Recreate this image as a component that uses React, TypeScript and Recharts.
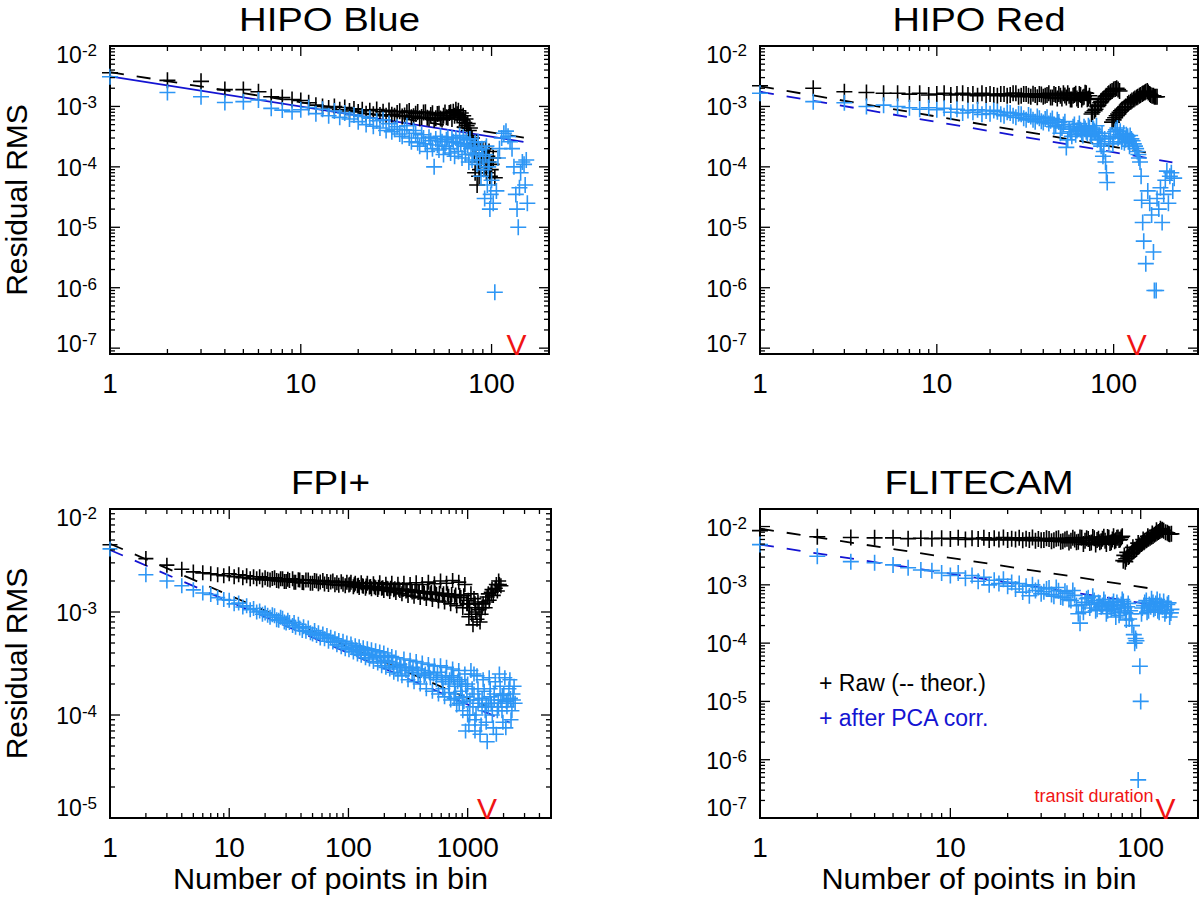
import React from "react";
import {
  ScatterChart,
  Scatter,
  XAxis,
  YAxis,
  ReferenceLine,
  ReferenceArea,
  ReferenceDot,
} from "recharts";

// Residual RMS vs. bin size for four instruments (log-log), raw vs. PCA-corrected.

const FONT = "'Liberation Sans', Arial, Helvetica, sans-serif";
const BLACK = "#000000";
const LIGHT_BLUE = "#2d96f5";
const DARK_BLUE = "#1414d2";
const RED = "#f01414";

// ---------- HIPO Blue ----------
const hbRawN = [
  1, 2, 3, 4, 5, 6, 7, 8, 9, 10, 11, 12, 13, 14, 15, 16, 17, 18, 19, 20, 21, 22, 23, 24, 25, 26, 27, 28, 29, 30,
  32, 34, 36, 38, 40, 42, 44, 46, 48, 50, 52, 54, 56, 58, 60, 62,
  63, 64, 65, 66, 67, 68, 69, 70, 71, 72, 73, 74, 75, 76, 77, 78, 79, 80,
  82, 84, 85, 86, 88, 90, 92, 95, 98, 100, 104,
  31, 33, 35, 37, 39, 41, 43, 45, 47, 49,
  51, 53, 55, 57, 59, 61, 81, 83, 87, 89,
  91, 93, 94, 96, 97, 99, 102,
];
const hbRawRms = [
  3.6e-3, 2.7e-3, 2.6e-3, 1.9e-3, 1.9e-3, 1.75e-3, 1.45e-3, 1.4e-3, 1.3e-3, 1.25e-3,
  1.15e-3, 1.05e-3, 1.0e-3, 9.4e-4, 1.0e-3, 8.8e-4, 9.6e-4, 8.4e-4, 9.1e-4, 8.1e-4,
  8.8e-4, 7.6e-4, 8.5e-4, 7.4e-4, 8.9e-4, 7.2e-4, 8.2e-4, 7.0e-4, 8.6e-4, 7.3e-4,
  7.8e-4, 6.8e-4, 8.0e-4, 6.6e-4, 7.6e-4, 6.4e-4, 7.9e-4, 6.5e-4, 7.2e-4, 6.0e-4, 7.5e-4, 6.3e-4, 7.0e-4, 6.6e-4, 7.8e-4, 6.2e-4,
  8.2e-4, 7.0e-4, 8.8e-4, 7.4e-4, 8.5e-4, 6.6e-4, 7.8e-4, 6.0e-4, 7.0e-4, 5.4e-4, 6.2e-4, 4.8e-4, 5.2e-4, 4.0e-4, 4.4e-4, 3.3e-4, 3.0e-4, 2.4e-4,
  8.0e-5, 5.0e-5, 1.2e-4, 7.0e-5, 1.3e-4, 1.9e-4, 1.0e-4, 1.5e-4, 7.0e-5, 1.1e-4, 6.6e-5,
  7.0e-4, 8.3e-4, 7.1e-4, 8.4e-4, 6.9e-4, 8.1e-4, 6.7e-4, 8.0e-4, 6.3e-4, 7.7e-4,
  6.4e-4, 7.6e-4, 6.1e-4, 7.9e-4, 6.5e-4, 8.0e-4, 1.6e-4, 2.2e-4, 9.0e-5, 1.7e-4,
  1.3e-4, 2.0e-4, 8.0e-5, 1.2e-4, 1.8e-4, 9.0e-5, 1.4e-4,
];
const hbPcaN = [
  1, 2, 3, 4, 5, 6, 7, 8, 9, 10, 11, 12, 13, 14, 15, 16, 17, 18, 19, 20, 21, 22, 23, 24, 25, 26, 27, 28, 29, 30,
  32, 34, 36, 38, 40, 42, 44, 46, 48, 50, 52, 54, 56, 58, 60, 62, 64, 66, 68, 70, 72, 74, 76, 78, 80, 82, 84, 86, 88, 90,
  92, 94, 96, 98, 100, 102, 104, 106, 108, 110, 113, 116, 119, 122, 125, 128, 131, 134,
  136, 138, 140, 142, 145, 148, 150, 152, 154,
  31, 33, 35, 37, 39, 41, 43, 45, 47, 49,
  51, 53, 55, 57, 59, 61, 63, 65, 67, 69,
  71, 73, 75, 77, 79, 81, 83, 85, 87, 89,
  91, 93, 95, 97, 99,
];
const hbPcaRms = [
  3.1e-3, 1.7e-3, 1.45e-3, 1.16e-3, 1.2e-3, 1.28e-3, 9.3e-4, 8.7e-4, 8.2e-4, 8.8e-4,
  9.6e-4, 7.6e-4, 9.0e-4, 7.0e-4, 8.4e-4, 6.6e-4, 7.8e-4, 6.2e-4, 7.2e-4, 5.6e-4,
  6.8e-4, 5.0e-4, 6.4e-4, 4.7e-4, 5.8e-4, 4.4e-4, 6.0e-4, 4.0e-4, 5.2e-4, 3.8e-4,
  4.6e-4, 3.2e-4, 4.8e-4, 2.6e-4, 3.6e-4, 2.2e-4, 3.0e-4, 1.8e-4, 2.7e-4, 1.0e-4,
  2.3e-4, 3.2e-4, 1.6e-4, 2.8e-4, 2.0e-4, 3.0e-4, 1.5e-4, 2.5e-4, 3.3e-4, 1.4e-4,
  2.2e-4, 2.8e-4, 1.2e-4, 2.0e-4, 1.6e-4, 2.5e-4, 1.1e-4, 1.9e-4, 7.0e-5, 1.5e-4,
  3.0e-5, 2.2e-4, 1.0e-4, 2.0e-5, 6.0e-5, 2.5e-5, 8.4e-7, 4.0e-5, 1.4e-4, 2.0e-4,
  3.0e-4, 3.6e-4, 3.9e-4, 3.2e-4, 2.6e-4, 2.0e-4, 1.0e-4, 3.5e-5,
  2.0e-5, 1.0e-5, 4.5e-5, 8.0e-5, 1.2e-4, 1.1e-4, 5.0e-5, 1.3e-4, 2.5e-5,
  4.2e-4, 3.5e-4, 4.1e-4, 3.0e-4, 4.0e-4, 2.5e-4, 3.4e-4, 2.4e-4, 3.1e-4, 2.0e-4,
  2.9e-4, 1.9e-4, 2.6e-4, 2.2e-4, 3.1e-4, 1.7e-4, 2.6e-4, 3.0e-4, 1.8e-4, 2.4e-4,
  3.1e-4, 1.6e-4, 2.3e-4, 2.9e-4, 1.3e-4, 2.1e-4, 1.7e-4, 2.6e-4, 1.3e-4, 2.0e-4,
  9.0e-5, 1.6e-4, 5.0e-5, 1.2e-4, 3.5e-5,
];
const hbTheorRaw = [[1, 3.7e-3], [148, 3.04e-4]];
const hbTheorPca = [[1, 3.15e-3], [147, 2.6e-4]];

// ---------- HIPO Red ----------
const hrRawN = [
  1, 2, 3, 4, 5, 6, 7, 8, 9, 10, 11, 12, 13, 14, 15, 16, 17, 18, 19, 20,
  22, 24, 26, 28, 30, 32, 34, 36, 38, 40, 42, 44, 46, 48, 50, 52, 54, 56, 58, 60, 62, 64, 66, 68, 70, 72,
  75, 78, 81, 84, 87, 90, 93, 96, 100, 104, 108,
  98, 102, 106, 110, 115, 120, 125, 130, 135, 140, 145, 150, 155, 160, 165, 170, 176,
  21, 23, 25, 27, 29, 31, 33, 35, 37, 39,
  41, 43, 45, 47, 49, 51, 53, 55, 57, 59,
  61, 63, 65, 67, 69, 71, 73, 74, 76, 79,
  82, 85, 88, 91, 94, 98, 102, 106, 100, 104,
  108, 112, 117, 122, 127, 132, 137, 142, 147, 152,
  157, 162, 168, 173,
];
const hrRawRms = [
  2.2e-3, 2.0e-3, 1.75e-3, 1.7e-3, 1.65e-3, 1.65e-3, 1.6e-3, 1.65e-3, 1.55e-3, 1.6e-3,
  1.65e-3, 1.55e-3, 1.6e-3, 1.65e-3, 1.55e-3, 1.6e-3, 1.5e-3, 1.65e-3, 1.55e-3, 1.6e-3,
  1.5e-3, 1.6e-3, 1.55e-3, 1.65e-3, 1.5e-3, 1.6e-3, 1.45e-3, 1.55e-3, 1.6e-3, 1.45e-3,
  1.55e-3, 1.4e-3, 1.6e-3, 1.35e-3, 1.5e-3, 1.65e-3, 1.4e-3, 1.5e-3, 1.3e-3, 1.55e-3,
  1.35e-3, 1.6e-3, 1.3e-3, 1.45e-3, 1.65e-3, 1.35e-3,
  7.5e-4, 8.5e-4, 1.0e-3, 1.15e-3, 1.3e-3, 1.45e-3, 1.6e-3, 1.75e-3, 1.9e-3, 2.0e-3, 1.8e-3,
  5.5e-4, 6.5e-4, 7.5e-4, 8.5e-4, 9.5e-4, 1.1e-3, 1.2e-3, 1.3e-3, 1.4e-3, 1.5e-3, 1.6e-3, 1.7e-3, 1.8e-3, 1.6e-3, 1.5e-3, 1.45e-3, 1.45e-3,
  1.55e-3, 1.6e-3, 1.5e-3, 1.65e-3, 1.45e-3, 1.6e-3, 1.5e-3, 1.62e-3, 1.42e-3, 1.58e-3,
  1.5e-3, 1.65e-3, 1.4e-3, 1.55e-3, 1.6e-3, 1.35e-3, 1.52e-3, 1.66e-3, 1.3e-3, 1.5e-3,
  1.62e-3, 1.28e-3, 1.55e-3, 1.4e-3, 1.68e-3, 1.32e-3, 1.5e-3, 1.3e-3, 8.0e-4, 9.0e-4,
  1.05e-3, 1.2e-3, 1.35e-3, 1.5e-3, 1.65e-3, 1.8e-3, 1.95e-3, 1.9e-3, 6.0e-4, 7.0e-4,
  8.0e-4, 9.0e-4, 1.0e-3, 1.15e-3, 1.25e-3, 1.35e-3, 1.45e-3, 1.55e-3, 1.65e-3, 1.75e-3,
  1.7e-3, 1.55e-3, 1.5e-3, 1.45e-3,
];
const hrPcaN = [
  1, 2, 3, 4, 5, 6, 7, 8, 9, 10, 11, 12, 13, 14, 15, 16, 17, 18, 19, 20,
  22, 24, 26, 28, 30, 32, 34, 36, 38, 40, 42, 44, 46, 48, 50, 52, 54, 55,
  56, 58, 60, 62, 64, 66, 68, 70, 72, 74, 76, 78, 80, 82, 84, 86, 88, 90, 91, 92, 94, 96,
  99, 102, 105, 108, 111, 114, 117, 120, 123, 126, 130, 134, 138,
  141, 143, 144, 146, 148, 152, 156, 160, 164, 168, 170, 174, 176,
  180, 184, 188, 192, 196, 200, 204, 208, 212, 216, 220,
  21, 23, 25, 27, 29, 31, 33, 35, 37, 39,
  41, 43, 45, 47, 49, 51, 53, 57, 59, 61,
  63, 65, 67, 69, 71, 73, 75, 77, 79, 81,
  83, 85, 87, 89, 100, 103, 106, 109, 112, 115,
  118, 121, 124, 128, 132, 136, 139,
];
const hrPcaRms = [
  1.65e-3, 1.2e-3, 1.15e-3, 1.0e-3, 1.05e-3, 1.0e-3, 9.5e-4, 9.0e-4, 9.5e-4, 8.8e-4,
  9.3e-4, 8.0e-4, 9.0e-4, 7.8e-4, 8.6e-4, 8.0e-4, 8.8e-4, 7.4e-4, 8.4e-4, 7.6e-4,
  8.2e-4, 7.0e-4, 7.8e-4, 6.6e-4, 7.4e-4, 6.0e-4, 6.8e-4, 5.6e-4, 6.4e-4, 5.4e-4, 6.6e-4, 5.8e-4, 4.6e-4, 6.0e-4, 3.6e-4, 5.0e-4, 2.1e-4, 2.8e-4,
  4.2e-4, 3.2e-4, 5.0e-4, 4.0e-4, 5.2e-4, 3.6e-4, 4.6e-4, 3.8e-4, 4.8e-4, 3.4e-4, 4.4e-4, 3.9e-4, 4.8e-4, 3.0e-4, 2.4e-4, 3.6e-4, 1.8e-4, 1.2e-4, 8.0e-5, 5.5e-5, 2.6e-4, 3.2e-4,
  2.4e-4, 3.8e-4, 4.4e-4, 3.4e-4, 2.6e-4, 3.6e-4, 2.8e-4, 3.2e-4, 2.2e-4, 2.9e-4, 2.4e-4, 2.0e-4, 1.6e-4,
  1.2e-4, 7.0e-5, 2.8e-5, 1.2e-5, 5.9e-6, 2.5e-6, 4.0e-5, 2.5e-5, 1.6e-5, 3.9e-6, 9.0e-7, 9.0e-7, 3.0e-5,
  2.0e-5, 4.5e-5, 1.2e-5, 3.5e-5, 6.0e-5, 8.5e-5, 2.5e-5, 7.0e-5, 8.0e-5, 4.0e-5, 6.5e-5,
  8.6e-4, 7.4e-4, 8.0e-4, 7.0e-4, 7.6e-4, 6.4e-4, 7.2e-4, 6.0e-4, 6.8e-4, 5.7e-4,
  6.2e-4, 5.2e-4, 6.3e-4, 4.8e-4, 5.5e-4, 4.4e-4, 5.6e-4, 3.8e-4, 4.6e-4, 3.4e-4,
  4.4e-4, 4.1e-4, 3.3e-4, 4.3e-4, 3.6e-4, 4.5e-4, 3.2e-4, 4.2e-4, 3.7e-4, 2.8e-4,
  3.3e-4, 2.2e-4, 1.5e-4, 2.9e-4, 3.0e-4, 4.1e-4, 3.0e-4, 3.9e-4, 3.1e-4, 2.5e-4,
  3.4e-4, 2.6e-4, 3.3e-4, 2.7e-4, 2.2e-4, 1.8e-4, 1.4e-4,
];
const hrTheorRaw = [[1, 2.15e-3], [152, 1.74e-4]];
const hrTheorPca = [[1, 1.75e-3], [215, 1.19e-4]];

// ---------- FPI+ ----------
const fpRawN = [
  1, 2, 3, 4, 5, 6, 7, 8, 9, 10,
  11, 12, 13, 14, 15, 16, 17, 18, 19, 20,
  21, 22, 23, 24, 25, 26, 27, 28, 29, 30,
  31, 32, 34, 35, 36, 38, 39, 41, 42, 44,
  46, 48, 50, 52, 54, 56, 58, 61, 63, 66,
  68, 71, 74, 77, 80, 83, 87, 90, 94, 97,
  101, 105, 110, 114, 119, 123, 128, 133, 139, 144,
  150, 156, 162, 169, 176, 183, 190, 198, 206, 214,
  222, 231, 240, 250, 260, 270, 281, 292, 304, 316,
  329, 342, 355, 370, 384, 400, 416, 432, 450, 468,
  486, 506, 526, 547, 569, 592, 615, 640, 665, 692,
  720, 748, 778, 809, 842, 875, 910, 947, 985, 1024,
  1065, 1108, 1152, 1198, 1246, 1296, 1348, 1402, 1458, 1516,
  1577, 1640, 1705, 1774, 1845, 1900, 1010, 1040, 1080, 1130,
  1170, 1220, 1270, 1320, 1420, 1490, 1600, 1740, 1820,
  103, 112, 121, 131, 141, 153, 165, 179, 194, 210,
  226, 245, 265, 286, 310, 335, 362, 392, 424, 459,
  496, 536, 580, 627, 678, 734, 793, 858, 928, 1000,
];
const fpRawRms = [
  4.5e-3, 3.3e-3, 2.85e-3, 2.6e-3, 2.45e-3, 2.4e-3, 2.35e-3, 2.3e-3, 2.25e-3, 2.35e-3,
  2.2e-3, 2.3e-3, 2.15e-3, 2.25e-3, 2.1e-3, 2.2e-3, 2.1e-3, 2.2e-3, 2.05e-3, 2.15e-3,
  2.08e-3, 2.05e-3, 2.12e-3, 2.15e-3, 2.02e-3, 2.0e-3, 2.1e-3, 2.1e-3, 1.98e-3, 1.98e-3,
  2.08e-3, 2.02e-3, 2.1e-3, 1.95e-3, 1.95e-3, 2.06e-3, 2.05e-3, 1.93e-3, 1.92e-3, 2.04e-3,
  2.05e-3, 1.9e-3, 1.9e-3, 2.02e-3, 2.0e-3, 1.88e-3, 1.96e-3, 2.02e-3, 1.87e-3, 1.98e-3,
  1.85e-3, 1.96e-3, 2.0e-3, 1.84e-3, 1.92e-3, 1.82e-3, 1.97e-3, 1.86e-3, 1.8e-3, 1.95e-3,
  1.83e-3, 1.94e-3, 1.76e-3, 1.9e-3, 1.8e-3, 1.73e-3, 1.92e-3, 1.78e-3, 1.7e-3, 1.9e-3,
  1.75e-3, 1.68e-3, 1.88e-3, 1.72e-3, 1.65e-3, 1.92e-3, 1.7e-3, 1.62e-3, 1.86e-3, 1.68e-3,
  1.58e-3, 1.9e-3, 1.64e-3, 1.55e-3, 1.86e-3, 1.62e-3, 1.5e-3, 1.9e-3, 1.6e-3, 1.45e-3,
  1.85e-3, 1.56e-3, 1.42e-3, 1.92e-3, 1.55e-3, 1.38e-3, 1.85e-3, 1.52e-3, 1.35e-3, 1.95e-3,
  1.5e-3, 1.32e-3, 1.88e-3, 1.48e-3, 1.28e-3, 2.0e-3, 1.45e-3, 1.25e-3, 1.9e-3, 1.42e-3,
  1.2e-3, 2.02e-3, 1.4e-3, 1.15e-3, 1.95e-3, 1.38e-3, 1.1e-3, 1.85e-3, 1.2e-3, 9.0e-4,
  1.5e-3, 7.5e-4, 1.2e-3, 8.5e-4, 1.05e-3, 9.5e-4, 1.2e-3, 1.1e-3, 1.4e-3, 1.3e-3,
  1.55e-3, 1.45e-3, 1.7e-3, 1.6e-3, 1.85e-3, 1.8e-3, 1.3e-3, 1.1e-3, 9.5e-4, 1.35e-3,
  1.0e-3, 1.25e-3, 8.0e-4, 1.1e-3, 1.25e-3, 1.5e-3, 1.65e-3, 1.85e-3, 2.0e-3,
  1.86e-3, 1.84e-3, 1.82e-3, 1.8e-3, 1.79e-3, 1.77e-3, 1.76e-3, 1.74e-3, 1.72e-3, 1.7e-3,
  1.7e-3, 1.68e-3, 1.66e-3, 1.65e-3, 1.63e-3, 1.62e-3, 1.6e-3, 1.58e-3, 1.58e-3, 1.56e-3,
  1.55e-3, 1.53e-3, 1.52e-3, 1.5e-3, 1.5e-3, 1.48e-3, 1.46e-3, 1.45e-3, 1.44e-3, 1.2e-3,
];
const fpPcaN = [
  1, 2, 3, 4, 5, 6, 7, 8, 9, 10,
  11, 12, 13, 14, 15, 16, 17, 18, 19, 20,
  21, 22, 23, 24, 25, 26, 27, 28, 29, 30,
  31, 32, 34, 35, 36, 38, 39, 41, 42, 44,
  46, 48, 50, 52, 54, 56, 58, 61, 63, 66,
  68, 71, 74, 77, 80, 83, 87, 90, 94, 97,
  101, 105, 110, 114, 119, 123, 128, 133, 139, 144,
  150, 156, 162, 169, 176, 183, 190, 198, 206, 214,
  222, 231, 240, 250, 260, 270, 281, 292, 304, 316,
  329, 342, 355, 370, 384, 400, 416, 432, 450, 468,
  486, 506, 526, 547, 569, 592, 615, 640, 665, 692,
  720, 748, 778, 809, 842, 875, 910, 947, 985, 1024,
  1065, 1108, 1152, 1198, 1246, 1296, 1348, 1402, 1458, 1516,
  1577, 1640, 1705, 1774, 1845, 1900, 1975, 2050, 2135, 2220,
  2310, 2400, 2500, 730, 790, 860, 930, 960, 1000, 1040,
  1090, 1130, 1175, 1220, 1270, 1320, 1375, 1430, 1490, 1545,
  1610, 1670, 1740, 1810, 1870, 1940, 2010, 2090, 2180, 2260,
  2350, 2450,
  202, 218, 235, 255, 275, 298, 322, 348, 377, 408,
  441, 477, 516, 558, 603, 652, 706, 763, 825, 893,
  965, 1045, 1130, 1222, 1322, 1430, 1546, 1672, 1808, 1955,
  2114, 2286, 2420, 620, 700, 770, 850, 900, 1000, 1150,
  107, 117, 126, 136, 147, 159, 172, 186,
];
const fpPcaRms = [
  4.1e-3, 2.3e-3, 2.0e-3, 1.8e-3, 1.64e-3, 1.53e-3, 1.48e-3, 1.38e-3, 1.32e-3, 1.3e-3,
  1.2e-3, 1.22e-3, 1.12e-3, 1.15e-3, 1.05e-3, 1.08e-3, 1.0e-3, 1.02e-3, 9.5e-4, 9.8e-4,
  9.3e-4, 8.9e-4, 9.4e-4, 9.2e-4, 8.4e-4, 8.3e-4, 8.9e-4, 8.7e-4, 8.0e-4, 7.8e-4,
  8.3e-4, 7.9e-4, 7.4e-4, 7.9e-4, 7.1e-4, 7.6e-4, 7.0e-4, 6.6e-4, 7.2e-4, 6.5e-4,
  7.0e-4, 6.3e-4, 6.1e-4, 6.6e-4, 5.9e-4, 6.3e-4, 5.6e-4, 6.1e-4, 5.5e-4, 5.9e-4,
  5.2e-4, 5.7e-4, 5.1e-4, 5.5e-4, 4.8e-4, 5.3e-4, 4.6e-4, 5.2e-4, 4.4e-4, 5.0e-4,
  4.3e-4, 4.9e-4, 4.1e-4, 4.7e-4, 3.9e-4, 4.6e-4, 3.8e-4, 4.5e-4, 3.6e-4, 4.4e-4,
  3.5e-4, 4.3e-4, 3.3e-4, 4.2e-4, 3.2e-4, 4.1e-4, 3.0e-4, 4.0e-4, 2.9e-4, 3.8e-4,
  2.8e-4, 3.7e-4, 2.6e-4, 3.6e-4, 2.5e-4, 3.1e-4, 2.4e-4, 3.5e-4, 2.7e-4, 2.2e-4,
  3.4e-4, 2.6e-4, 2.1e-4, 3.3e-4, 2.5e-4, 2.0e-4, 3.2e-4, 2.4e-4, 1.8e-4, 3.1e-4,
  2.3e-4, 1.7e-4, 3.0e-4, 2.2e-4, 1.6e-4, 3.0e-4, 2.1e-4, 1.5e-4, 2.9e-4, 2.0e-4,
  1.4e-4, 2.8e-4, 1.9e-4, 1.25e-4, 2.7e-4, 1.7e-4, 1.1e-4, 2.5e-4, 1.5e-4, 8.0e-5,
  2.7e-4, 1.2e-4, 7.0e-5, 2.4e-4, 1.4e-4, 8.0e-5, 2.2e-4, 1.1e-4, 5.5e-5, 2.3e-4,
  1.3e-4, 7.5e-5, 2.1e-4, 1.1e-4, 2.5e-4, 1.4e-4, 8.5e-5, 2.3e-4, 1.2e-4, 1.8e-4,
  9.0e-5, 1.6e-4, 1.3e-4, 2.4e-4, 1.6e-4, 2.2e-4, 1.35e-4, 7.0e-5, 2.0e-4, 1.0e-4,
  1.8e-4, 2.5e-4, 1.0e-4, 1.8e-4, 6.5e-5, 1.2e-4, 1.7e-4, 8.5e-5, 1.2e-4, 1.8e-4,
  1.0e-4, 1.6e-4, 6.5e-5, 1.2e-4, 1.9e-4, 1.1e-4, 1.6e-4, 7.5e-5, 1.4e-4, 2.2e-4,
  1.1e-4, 1.9e-4,
  3.4e-4, 3.3e-4, 3.2e-4, 3.0e-4, 2.9e-4, 2.9e-4, 2.8e-4, 2.9e-4, 2.8e-4, 2.7e-4,
  2.5e-4, 2.6e-4, 2.5e-4, 2.6e-4, 2.4e-4, 2.3e-4, 2.2e-4, 2.3e-4, 2.1e-4, 2.0e-4,
  1.9e-4, 1.4e-4, 1.6e-4, 1.3e-4, 1.45e-4, 1.25e-4, 1.5e-4, 1.4e-4, 1.3e-4, 1.55e-4,
  1.35e-4, 1.45e-4, 1.4e-4, 1.8e-4, 1.65e-4, 1.45e-4, 1.3e-4, 1.5e-4, 1.0e-4, 9.0e-5,
  4.5e-4, 4.3e-4, 4.2e-4, 4.0e-4, 3.9e-4, 3.8e-4, 3.7e-4, 3.6e-4,
];
const fpTheorRaw = [[1, 4.6e-3], [1500, 1.19e-4]];
const fpTheorPca = [[1, 4.0e-3], [2250, 8.43e-5]];

// ---------- FLITECAM ----------
const flRawN = [
  1, 2, 3, 4, 5, 6, 7, 8, 9, 10, 11, 12, 13, 14, 15, 16, 17, 18, 19, 20, 21, 22, 23, 24, 25, 26, 27, 28, 29, 30,
  32, 34, 36, 38, 40, 42, 44, 46, 48, 50, 52, 54, 56, 58, 60, 62, 64, 66, 68, 70, 72, 74, 76, 78, 80,
  83, 86, 89, 92, 95, 98, 101, 104, 107, 110, 114, 118, 122, 126, 130, 135, 140, 145,
  31, 33, 35, 37, 39, 41, 43, 45, 47, 49,
  51, 53, 55, 57, 59, 61, 63, 65, 67, 69,
  71, 73, 75, 77, 79, 81, 82, 84, 85, 87,
  90, 91, 93, 96, 97, 99, 102, 103, 105, 108,
  109, 112, 115, 116, 120, 121, 124, 127, 128, 132,
  138, 142,
];
const flRawRms = [
  8.5e-3, 6.7e-3, 6.5e-3, 6.4e-3, 6.4e-3, 6.2e-3, 6.3e-3, 6.2e-3, 6.3e-3, 6.1e-3,
  6.4e-3, 6.0e-3, 6.3e-3, 6.1e-3, 6.4e-3, 5.9e-3, 6.3e-3, 6.0e-3, 6.5e-3, 5.9e-3,
  6.2e-3, 6.0e-3, 6.4e-3, 5.8e-3, 6.2e-3, 5.9e-3, 6.5e-3, 5.7e-3, 6.1e-3, 5.8e-3,
  6.3e-3, 5.6e-3, 6.2e-3, 5.5e-3, 6.0e-3, 5.3e-3, 6.4e-3, 5.4e-3, 6.5e-3, 5.0e-3,
  6.3e-3, 5.2e-3, 6.6e-3, 4.9e-3, 6.2e-3, 5.6e-3, 6.7e-3, 5.0e-3, 6.4e-3, 5.4e-3,
  6.8e-3, 5.8e-3, 6.5e-3, 6.0e-3, 6.8e-3,
  2.5e-3, 3.0e-3, 3.4e-3, 3.8e-3, 4.2e-3, 4.6e-3, 5.0e-3, 5.4e-3, 5.8e-3, 6.2e-3,
  6.7e-3, 7.2e-3, 7.8e-3, 8.4e-3, 8.8e-3, 8.0e-3, 7.5e-3, 7.5e-3,
  5.9e-3, 6.1e-3, 5.8e-3, 6.3e-3, 5.6e-3, 6.2e-3, 5.7e-3, 6.0e-3, 5.5e-3, 6.4e-3,
  5.7e-3, 6.1e-3, 5.3e-3, 6.3e-3, 5.9e-3, 5.4e-3, 6.2e-3, 5.7e-3, 6.6e-3, 5.2e-3,
  6.0e-3, 5.6e-3, 6.4e-3, 5.9e-3, 6.5e-3, 2.6e-3, 3.2e-3, 2.8e-3, 3.6e-3, 3.1e-3,
  3.6e-3, 4.4e-3, 4.0e-3, 4.4e-3, 5.2e-3, 4.8e-3, 5.2e-3, 6.0e-3, 5.6e-3, 6.0e-3,
  6.8e-3, 6.4e-3, 7.6e-3, 6.9e-3, 7.5e-3, 8.6e-3, 8.1e-3, 9.2e-3, 8.6e-3, 8.5e-3,
  7.8e-3, 7.4e-3,
];
const flPcaN = [
  1, 2, 3, 4, 5, 6, 7, 8, 9, 10, 11, 12, 13, 14, 15, 16, 17, 18, 19, 20, 21, 22, 23, 24, 25, 26, 27, 28, 29, 30,
  32, 34, 36, 38, 40, 42, 44, 46, 48, 50, 52, 54, 56, 58, 60, 62, 64, 66, 68, 70, 72, 74, 76, 78, 80, 82, 84, 86, 88, 90,
  92, 93, 94, 95, 97, 99, 100,
  102, 105, 108, 111, 114, 117, 120, 123, 126, 130, 134, 138, 142, 145,
  31, 33, 35, 37, 39, 41, 43, 45, 47, 49,
  51, 53, 55, 57, 59, 61, 63, 65, 67, 69,
  71, 73, 75, 77, 79, 81, 83, 85, 87, 89,
  101, 104, 107, 110, 113, 116, 119, 122, 125, 128,
  132, 136, 140, 144,
];
const flPcaRms = [
  4.9e-3, 3.1e-3, 2.5e-3, 2.4e-3, 2.2e-3, 1.96e-3, 1.8e-3, 1.75e-3, 1.6e-3, 1.45e-3,
  1.6e-3, 1.3e-3, 1.45e-3, 1.15e-3, 1.35e-3, 1.0e-3, 1.2e-3, 1.05e-3, 1.25e-3, 9.5e-4,
  1.1e-3, 8.5e-4, 1.05e-3, 7.5e-4, 9.5e-4, 6.5e-4, 1.0e-3, 8.0e-4, 9.0e-4, 7.0e-4,
  8.5e-4, 6.8e-4, 9.0e-4, 6.2e-4, 7.8e-4, 5.6e-4, 8.0e-4, 4.4e-4, 2.2e-4, 3.4e-4,
  5.8e-4, 4.0e-4, 6.4e-4, 3.6e-4, 5.0e-4, 4.2e-4, 5.6e-4, 3.2e-4, 4.6e-4, 3.8e-4,
  5.2e-4, 2.8e-4, 4.4e-4, 3.4e-4, 5.6e-4, 4.0e-4, 2.5e-4, 4.8e-4, 3.6e-4, 2.0e-4,
  1.4e-4, 1.0e-4, 1.2e-4, 1.1e-4, 4.5e-7, 4.0e-5, 1.0e-5,
  4.0e-4, 5.0e-4, 3.4e-4, 4.6e-4, 5.8e-4, 3.8e-4, 4.8e-4, 3.6e-4, 5.2e-4, 4.2e-4, 3.2e-4, 4.6e-4, 2.8e-4, 3.8e-4,
  7.6e-4, 8.8e-4, 6.4e-4, 7.9e-4, 6.0e-4, 7.2e-4, 5.4e-4, 6.6e-4, 3.2e-4, 4.6e-4,
  5.0e-4, 6.0e-4, 4.6e-4, 5.4e-4, 3.8e-4, 4.8e-4, 4.4e-4, 5.0e-4, 3.6e-4, 4.2e-4,
  4.6e-4, 3.9e-4, 5.0e-4, 3.0e-4, 4.6e-4, 5.2e-4, 3.3e-4, 4.2e-4, 2.6e-4, 3.2e-4,
  3.2e-4, 4.4e-4, 5.4e-4, 3.6e-4, 4.2e-4, 5.0e-4, 4.0e-4, 5.6e-4, 3.4e-4, 4.4e-4,
  5.2e-4, 3.6e-4, 4.9e-4, 3.3e-4,
];
const flTheorRaw = [[1, 9.2e-3], [110, 8.77e-4]];
const flTheorPca = [[1, 4.9e-3], [135, 4.22e-4]];

// tick labels (majors); minor ticks are filled in per decade
const xMajors200 = [1, 10, 100];
const xMajors5000 = [1, 10, 100, 1000];
const yMajorsHipo = [1e-7, 1e-6, 1e-5, 1e-4, 1e-3, 1e-2];
const yMajorsFpi = [1e-5, 1e-4, 1e-3, 1e-2];

// plot box offset inside each chart: room for the y labels on the left, the title on top
const PAD_LEFT = 110;
const PAD_TOP = 60;
const PAD_BOTTOM = 80;
const PAD_RIGHT = 2;

interface PanelSpec {
  title: string;
  titleWidth: number;
  left: number;
  top: number;
  w: number;
  h: number;
  xDomain: [number, number];
  yDomain: [number, number];
  xMajors: number[];
  yMajors: number[];
  rawN: number[];
  rawRms: number[];
  pcaN: number[];
  pcaRms: number[];
  theorRaw: number[][];
  theorPca: number[][];
  pcaSolid: boolean;
  transit: number;
  transitLabel: boolean;
  yTitle: boolean;
  xTitle: boolean;
  legend: boolean;
  plus: number;
}

const PANELS: PanelSpec[] = [
  {
    title: "HIPO Blue", titleWidth: 181, left: 110, top: 46, w: 439, h: 308,
    xDomain: [1, 200], yDomain: [8e-8, 1e-2], xMajors: xMajors200, yMajors: yMajorsHipo,
    rawN: hbRawN, rawRms: hbRawRms, pcaN: hbPcaN, pcaRms: hbPcaRms,
    theorRaw: hbTheorRaw, theorPca: hbTheorPca, pcaSolid: true,
    transit: 135, transitLabel: false, yTitle: true, xTitle: false, legend: false, plus: 8,
  },
  {
    title: "HIPO Red", titleWidth: 173, left: 760, top: 46, w: 438, h: 308,
    xDomain: [1, 300], yDomain: [8e-8, 1e-2], xMajors: xMajors200, yMajors: yMajorsHipo,
    rawN: hrRawN, rawRms: hrRawRms, pcaN: hrPcaN, pcaRms: hrPcaRms,
    theorRaw: hrTheorRaw, theorPca: hrTheorPca, pcaSolid: false,
    transit: 135, transitLabel: false, yTitle: false, xTitle: false, legend: false, plus: 8,
  },
  {
    title: "FPI+", titleWidth: 79, left: 110, top: 509, w: 441, h: 309,
    xDomain: [1, 5000], yDomain: [1e-5, 1e-2], xMajors: xMajors5000, yMajors: yMajorsFpi,
    rawN: fpRawN, rawRms: fpRawRms, pcaN: fpPcaN, pcaRms: fpPcaRms,
    theorRaw: fpTheorRaw, theorPca: fpTheorPca, pcaSolid: false,
    transit: 1450, transitLabel: false, yTitle: true, xTitle: true, legend: false, plus: 7.5,
  },
  {
    title: "FLITECAM", titleWidth: 189, left: 760, top: 509, w: 438, h: 309,
    xDomain: [1, 200], yDomain: [1e-7, 2e-2], xMajors: xMajors200, yMajors: yMajorsHipo,
    rawN: flRawN, rawRms: flRawRms, pcaN: flPcaN, pcaRms: flPcaRms,
    theorRaw: flTheorRaw, theorPca: flTheorPca, pcaSolid: false,
    transit: 135, transitLabel: true, yTitle: false, xTitle: true, legend: true, plus: 8,
  },
];

function logTicks(lo: number, hi: number): number[] {
  const out: number[] = [];
  for (let d = Math.floor(Math.log10(lo)); d <= Math.ceil(Math.log10(hi)); d++) {
    for (let k = 1; k <= 9; k++) {
      const v = Number((k * Math.pow(10, d)).toPrecision(4));
      if (v >= lo * 0.9999 && v <= hi * 1.0001) out.push(v);
    }
  }
  return out;
}

const plusShape = (color: string, half: number) => (props: any) => {
  const { cx, cy } = props;
  if (cx == null || cy == null) return <g />;
  return (
    <path
      d={`M${cx - half},${cy}H${cx + half}M${cx},${cy - half}V${cy + half}`}
      stroke={color}
      strokeWidth={1.6}
      fill="none"
    />
  );
};

function Panel({ spec }: { spec: PanelSpec }) {
  const width = PAD_LEFT + spec.w + PAD_RIGHT;
  const height = PAD_TOP + spec.h + PAD_BOTTOM;
  const top = PAD_TOP;
  const bottom = PAD_TOP + spec.h;
  const left = PAD_LEFT;
  const right = PAD_LEFT + spec.w;

  const raw = spec.rawN.map((n, i) => ({ x: n, y: spec.rawRms[i] }));
  const pca = spec.pcaN.map((n, i) => ({ x: n, y: spec.pcaRms[i] }));
  const xTicks = logTicks(spec.xDomain[0], spec.xDomain[1]);
  const yTicks = logTicks(spec.yDomain[0], spec.yDomain[1]);

  const xTick = (props: any) => {
    const { x, payload } = props;
    const v = payload.value;
    const major = spec.xMajors.includes(v);
    const len = major ? 10 : 5;
    return (
      <g>
        <line x1={x} x2={x} y1={bottom} y2={bottom - len} stroke={BLACK} strokeWidth={1.3} />
        <line x1={x} x2={x} y1={top} y2={top + len} stroke={BLACK} strokeWidth={1.3} />
        {major && (
          <text x={x} y={bottom + 39} textAnchor="middle" fontSize={28} fontFamily={FONT} fill={BLACK}>
            {String(v)}
          </text>
        )}
      </g>
    );
  };

  const yTick = (props: any) => {
    const { y, payload } = props;
    const v = payload.value;
    const e = Math.round(Math.log10(v));
    const major = spec.yMajors.some((m) => Math.abs(m - v) < m * 1e-6);
    const len = major ? 10 : 5;
    const base = Math.min(Math.max(y + 9, top + 17), bottom - 2);
    return (
      <g>
        <line x1={left} x2={left + len} y1={y} y2={y} stroke={BLACK} strokeWidth={1.3} />
        <line x1={right} x2={right - len} y1={y} y2={y} stroke={BLACK} strokeWidth={1.3} />
        {major && (
          <text x={left - 13} y={base} textAnchor="end" fontSize={23} fontFamily={FONT} fill={BLACK}>
            <tspan>10</tspan>
            <tspan dy={-7} fontSize={17}>{`${e}`}</tspan>
          </text>
        )}
      </g>
    );
  };

  const xLabel = () => (
    <g>
      <text
        x={left + spec.w / 2}
        y={top - 15}
        textAnchor="middle"
        fontSize={33}
        fontFamily={FONT}
        fill={BLACK}
        textLength={spec.titleWidth}
        lengthAdjust="spacingAndGlyphs"
      >
        {spec.title}
      </text>
      {spec.xTitle && (
        <text
          x={left + spec.w / 2}
          y={bottom + 71}
          textAnchor="middle"
          fontSize={30}
          fontFamily={FONT}
          fill={BLACK}
          textLength={315}
          lengthAdjust="spacingAndGlyphs"
        >
          Number of points in bin
        </text>
      )}
    </g>
  );

  const yLabel = () => (
    <g>
      {spec.yTitle && (
        <text
          x={27}
          y={top + spec.h / 2}
          transform={`rotate(-90, 27, ${top + spec.h / 2})`}
          textAnchor="middle"
          fontSize={30}
          fontFamily={FONT}
          fill={BLACK}
        >
          Residual RMS
        </text>
      )}
      {spec.legend && (
        <g fontFamily={FONT} fontSize={23}>
          <text x={left + 59} y={top + 182} fill={BLACK}>+ Raw (-- theor.)</text>
          <text x={left + 59} y={top + 217} fill={DARK_BLUE}>+ after PCA corr.</text>
        </g>
      )}
    </g>
  );

  const transitMark = (p: any) => (
    <g>
      <text x={p.cx} y={p.cy + 1} textAnchor="middle" fontSize={30} fontFamily={FONT} fill={RED}>
        V
      </text>
      {spec.transitLabel && (
        <text x={p.cx - 12} y={p.cy - 16} textAnchor="end" fontSize={18} fontFamily={FONT} fill={RED}>
          transit duration
        </text>
      )}
    </g>
  );

  return (
    <div style={{ position: "absolute", left: spec.left - PAD_LEFT, top: spec.top - PAD_TOP }}>
      <ScatterChart
        width={width}
        height={height}
        margin={{ top: PAD_TOP, right: PAD_RIGHT, bottom: 0, left: 0 }}
      >
        <XAxis
          type="number"
          dataKey="x"
          scale="log"
          domain={spec.xDomain}
          ticks={xTicks}
          interval={0}
          height={PAD_BOTTOM}
          axisLine={false}
          tickLine={false}
          tick={xTick}
          label={xLabel}
        />
        <YAxis
          type="number"
          dataKey="y"
          scale="log"
          domain={spec.yDomain}
          ticks={yTicks}
          interval={0}
          width={PAD_LEFT}
          axisLine={false}
          tickLine={false}
          tick={yTick}
          label={yLabel}
        />
        <Scatter data={raw} shape={plusShape(BLACK, spec.plus)} isAnimationActive={false} />
        <Scatter data={pca} shape={plusShape(LIGHT_BLUE, spec.plus)} isAnimationActive={false} />
        <ReferenceLine
          segment={[
            { x: spec.theorRaw[0][0], y: spec.theorRaw[0][1] },
            { x: spec.theorRaw[1][0], y: spec.theorRaw[1][1] },
          ]}
          stroke={BLACK}
          strokeWidth={1.8}
          strokeDasharray="14 13"
          ifOverflow="visible"
        />
        <ReferenceLine
          segment={[
            { x: spec.theorPca[0][0], y: spec.theorPca[0][1] },
            { x: spec.theorPca[1][0], y: spec.theorPca[1][1] },
          ]}
          stroke={DARK_BLUE}
          strokeWidth={1.8}
          strokeDasharray={spec.pcaSolid ? undefined : "14 13"}
          ifOverflow="visible"
        />
        <ReferenceArea
          x1={spec.xDomain[0]}
          x2={spec.xDomain[1]}
          y1={spec.yDomain[0]}
          y2={spec.yDomain[1]}
          fill="none"
          fillOpacity={0}
          stroke={BLACK}
          strokeWidth={2}
          ifOverflow="visible"
        />
        <ReferenceDot
          x={spec.transit}
          y={spec.yDomain[0]}
          r={0}
          ifOverflow="visible"
          shape={transitMark}
        />
      </ScatterChart>
    </div>
  );
}

export default function App() {
  return (
    <div
      style={{
        position: "absolute",
        left: 0,
        top: 0,
        width: 1200,
        height: 899,
        overflow: "hidden",
        background: "#ffffff",
        fontFamily: FONT,
      }}
    >
      {PANELS.map((p) => (
        <Panel key={p.title} spec={p} />
      ))}
    </div>
  );
}
